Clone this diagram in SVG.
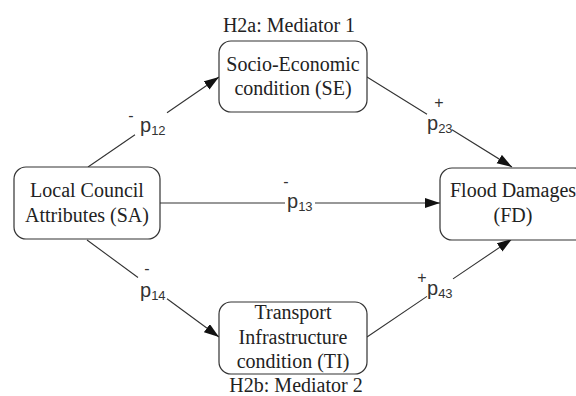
<svg xmlns="http://www.w3.org/2000/svg" width="576" height="396" viewBox="0 0 576 396">
  <style>
    .box { fill: #ffffff; stroke: #333333; stroke-width: 1.2; }
    .name { font-family: "Liberation Serif", "Times New Roman", serif; font-size: 20px; fill: #222222; text-anchor: middle; }
    .edge { fill: none; stroke: #333333; stroke-width: 1.1; }
    .lbl { font-family: "Liberation Sans", Arial, sans-serif; fill: #333333; }
    .p { font-size: 20px; }
    .sub { font-size: 13px; }
    .sign { font-size: 16px; text-anchor: middle; }
  </style>
  <defs>
    <marker id="arrow" markerUnits="userSpaceOnUse" markerWidth="16" markerHeight="11" refX="15" refY="5" orient="auto">
      <path d="M0,0 L15,5 L0,10 z" fill="#111111"/>
    </marker>
  </defs>
  <rect width="576" height="396" fill="#ffffff"/>

  <!-- connectors, each split where its coefficient label sits -->
  <g id="connectors">
    <path id="e-sa-se" class="edge" d="M88,167 L135,134.7 M167,112.7 L219,77" marker-end="url(#arrow)"/>
    <path id="e-se-fd" class="edge" d="M367,77 L427,114.2 M452,129.8 L512,167" marker-end="url(#arrow)"/>
    <path id="e-sa-fd" class="edge" d="M160,203 L285,203 M315,203 L440,203" marker-end="url(#arrow)"/>
    <path id="e-sa-ti" class="edge" d="M87,240 L138,277.5 M167,298.8 L219,337" marker-end="url(#arrow)"/>
    <path id="e-ti-fd" class="edge" d="M367,337 L427,296.4 M453,278.9 L512,239" marker-end="url(#arrow)"/>

    <g class="lbl">
      <text class="sign" x="131" y="121">-</text>
      <text x="140" y="132"><tspan class="p">p</tspan><tspan class="sub" dy="3">12</tspan></text>

      <text class="sign" x="439" y="108">+</text>
      <text x="427" y="130"><tspan class="p">p</tspan><tspan class="sub" dy="3">23</tspan></text>

      <text class="sign" x="286" y="187">-</text>
      <text x="287" y="208"><tspan class="p">p</tspan><tspan class="sub" dy="3">13</tspan></text>

      <text class="sign" x="147" y="274">-</text>
      <text x="140" y="297"><tspan class="p">p</tspan><tspan class="sub" dy="3">14</tspan></text>

      <text class="sign" x="422" y="283">+</text>
      <text x="427" y="295"><tspan class="p">p</tspan><tspan class="sub" dy="3">43</tspan></text>
    </g>
  </g>

  <!-- nodes -->
  <g id="node-sa">
    <rect class="box" x="14" y="167" width="146" height="72" rx="12"/>
    <text class="name" x="87" y="197">Local Council</text>
    <text class="name" x="87" y="222">Attributes (SA)</text>
  </g>

  <g id="node-se">
    <text class="name" x="289" y="32">H2a: Mediator 1</text>
    <rect class="box" x="219" y="41" width="148" height="71" rx="12"/>
    <text class="name" x="293" y="71">Socio-Economic</text>
    <text class="name" x="293" y="95">condition (SE)</text>
  </g>

  <g id="node-fd">
    <rect class="box" x="440" y="168" width="146" height="72" rx="12"/>
    <text class="name" x="513" y="197">Flood Damages</text>
    <text class="name" x="513" y="222">(FD)</text>
  </g>

  <g id="node-ti">
    <rect class="box" x="219" y="302" width="148" height="72" rx="12"/>
    <text class="name" x="293" y="319">Transport</text>
    <text class="name" x="293" y="344">Infrastructure</text>
    <text class="name" x="293" y="368">condition (TI)</text>
    <text class="name" x="296" y="392">H2b: Mediator 2</text>
  </g>
</svg>
